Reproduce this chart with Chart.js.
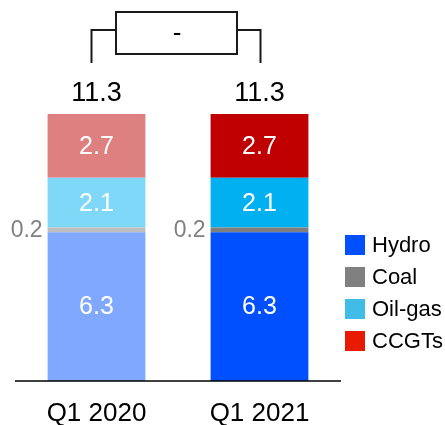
<!DOCTYPE html>
<html>
<head>
<meta charset="utf-8">
<script src="https://cdn.jsdelivr.net/npm/chart.js@4"></script>
<style>
  html, body { margin: 0; padding: 0; background: #fff; }
  #wrap { width: 445px; height: 425px; position: relative; }
</style>
</head>
<body>
<div id="wrap"><canvas id="chart" width="445" height="425"></canvas></div>
<script>
// datos
const periodos = ['Q1 2020', 'Q1 2021'];
const series = ['Hydro', 'Coal', 'Oil-gas', 'CCGTs'];
const hydro = [6.3, 6.3];
const coal = [0.2, 0.2];
const oilGas = [2.1, 2.1];
const ccgts = [2.7, 2.7];
const totales = [11.3, 11.3];
const variacion = '-';

// colores: [Q1 2020 atenuado, Q1 2021]
const coloresHydro = ['#80A8FF', '#0050FF'];
const coloresCoal = ['#BFBFBF', '#808080'];
const coloresOil = ['#80D8F8', '#00B0F0'];
const coloresCcgt = ['#DF8080', '#C00000'];
const coloresLeyenda = ['#0050FF', '#808080', '#40BCE6', '#E81A00'];

const FONT = 'Arial, "Liberation Sans", sans-serif';

// etiquetas, totales, corchete y leyenda
const extrasPlugin = {
    id: 'extras',
    afterDatasetsDraw(chart) {
        const ctx = chart.ctx;
        const x = chart.scales.x;
        const y = chart.scales.y;
        ctx.save();

        // valores dentro de las barras
        ctx.textAlign = 'center';
        ctx.textBaseline = 'middle';
        chart.data.datasets.forEach((ds, i) => {
            const meta = chart.getDatasetMeta(i);
            meta.data.forEach((bar, j) => {
                const v = ds.data[j];
                if (ds.label === 'Coal') {
                    ctx.fillStyle = '#808080';
                    ctx.font = '23px ' + FONT;
                    ctx.textAlign = 'right';
                    ctx.fillText(v.toFixed(1), bar.x - bar.width / 2 - 5, (bar.y + bar.base) / 2 + 1);
                    ctx.textAlign = 'center';
                } else {
                    ctx.fillStyle = '#ffffff';
                    ctx.font = '25px ' + FONT;
                    ctx.fillText(v.toFixed(1), bar.x, (bar.y + bar.base) / 2 + 1);
                }
            });
        });

        // totales
        ctx.fillStyle = '#000000';
        ctx.font = '27px ' + FONT;
        totales.forEach((t, j) => {
            ctx.fillText(t.toFixed(1), x.getPixelForValue(j), y.getPixelForValue(t) - 20);
        });

        // etiquetas del eje x
        ctx.font = '26px ' + FONT;
        periodos.forEach((p, j) => {
            ctx.fillText(p, x.getPixelForValue(j), 414);
        });

        // linea base
        ctx.strokeStyle = '#000000';
        ctx.lineWidth = 1.5;
        ctx.beginPath();
        ctx.moveTo(chart.chartArea.left, y.getPixelForValue(0));
        ctx.lineTo(chart.chartArea.right, y.getPixelForValue(0));
        ctx.stroke();

        // corchete con variacion
        const x1 = x.getPixelForValue(0) - 5;
        const x2 = x.getPixelForValue(1) + 1;
        ctx.strokeStyle = '#1a1a1a';
        ctx.lineWidth = 2;
        ctx.beginPath();
        ctx.moveTo(x1, 63); ctx.lineTo(x1, 30); ctx.lineTo(116, 30);
        ctx.moveTo(237, 30); ctx.lineTo(x2, 30); ctx.lineTo(x2, 63);
        ctx.stroke();
        ctx.strokeRect(116, 12, 121, 42);
        ctx.fillStyle = '#000000';
        ctx.font = '26px ' + FONT;
        ctx.fillText(variacion, 177, 34);

        // leyenda
        ctx.textAlign = 'left';
        ctx.font = '22px ' + FONT;
        series.forEach((s, i) => {
            const top = 235 + i * 32;
            ctx.fillStyle = coloresLeyenda[i];
            ctx.fillRect(345, top, 20, 20);
            ctx.fillStyle = '#000000';
            ctx.fillText(s, 372, top + 11);
        });

        ctx.restore();
    }
};

new Chart(document.getElementById('chart'), {
    type: 'bar',
    data: {
        labels: periodos,
        datasets: [
            { label: 'Hydro', data: hydro, backgroundColor: coloresHydro },
            { label: 'Coal', data: coal, backgroundColor: coloresCoal },
            { label: 'Oil-gas', data: oilGas, backgroundColor: coloresOil },
            { label: 'CCGTs', data: ccgts, backgroundColor: coloresCcgt }
        ]
    },
    options: {
        responsive: false,
        animation: false,
        events: [],
        layout: { padding: { top: 3, bottom: 44, left: 15, right: 104 } },
        datasets: {
            bar: { categoryPercentage: 1, barPercentage: 0.6, borderWidth: 0 }
        },
        plugins: {
            legend: { display: false },
            tooltip: { enabled: false }
        },
        scales: {
            x: { stacked: true, display: false },
            y: { stacked: true, display: false, min: 0, max: 16 }
        }
    },
    plugins: [extrasPlugin]
});
</script>
</body>
</html>
